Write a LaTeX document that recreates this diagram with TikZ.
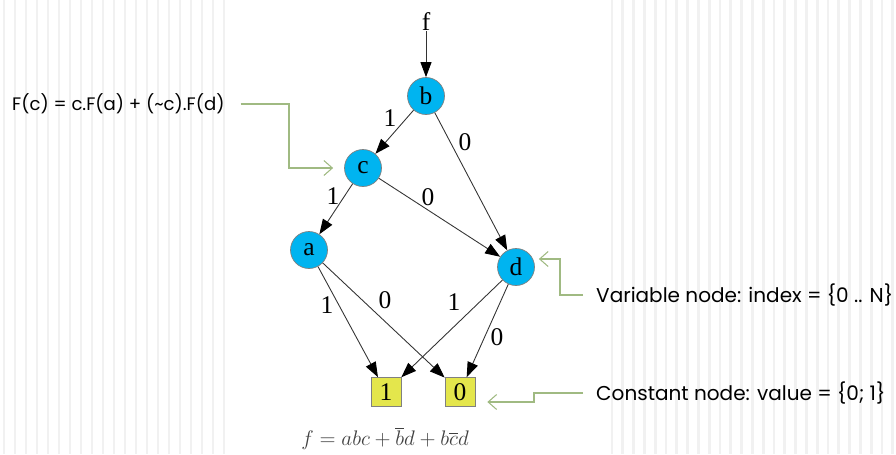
\documentclass[tikz,border=0pt]{standalone}
\usepackage{fontspec}
\setmainfont{Liberation Serif}
\newfontfamily\notefont{Poppins}
\usetikzlibrary{arrows.meta}
\definecolor{varblue}{RGB}{0,180,240}
\definecolor{constyellow}{RGB}{228,230,76}
\definecolor{notegreen}{RGB}{160,186,130}
\definecolor{stripegray}{RGB}{241,241,241}
\begin{document}
\begin{tikzpicture}[
        var/.style={circle, draw=gray, fill=varblue, minimum size=0.74cm, inner sep=0pt, font=\fontsize{14.5}{14}\selectfont},
        const/.style={rectangle, draw=gray, fill=constyellow, minimum width=0.6cm, minimum height=0.58cm, inner sep=0pt, font=\fontsize{14.5}{14}\selectfont},
        edge/.style={draw=black!80, line width=0.5pt, -{Triangle[length=0.3cm, width=0.22cm, color=black]}},
        lbl/.style={font=\fontsize{14.5}{14}\selectfont, inner sep=0pt},
        note/.style={draw=notegreen, line width=0.6pt, -{Straight Barb[length=0.17cm, width=0.3cm]}},
        notetext/.style={font=\notefont\fontsize{11.4}{13}\selectfont, anchor=west}
    ]

    \useasboundingbox (0,0) rectangle (17.92,9.08);

    % Slide background stripes
    \foreach \i in {0,...,20} \draw[stripegray, line width=1.5pt] (0.08+0.22*\i,0) -- ++(0,9.08);
    \foreach \i in {0,...,26} \draw[stripegray, line width=1.5pt] (12.24+0.216*\i,0) -- ++(0,9.08);

    % Function root
    \node[lbl] (f) at (8.52, 8.64) {f};

    % Variable nodes
    \node[var] (b) at (8.52, 7.16) {b};
    \node[var] (c) at (7.26, 5.72) {c};
    \node[var] (a) at (6.18, 4.08) {a};
    \node[var] (d) at (10.32, 3.74) {d};

    % Constant nodes
    \node[const] (one) at (7.72, 1.24) {1};
    \node[const] (zero) at (9.20, 1.24) {0};

    % Edges
    \draw[edge] (f) -- (b);
    \draw[edge] (b) -- (c);
    \draw[edge] (b) -- (d);
    \draw[edge] (c) -- (a);
    \draw[edge] (c) -- (d);
    \draw[edge] (a) -- (one);
    \draw[edge] (a) -- (zero);
    \draw[edge] (d) -- (one);
    \draw[edge] (d) -- (zero);

    % Edge labels
    \node[lbl] (lbc) at (7.80, 6.72) {1};
    \node[lbl] (lbd) at (9.30, 6.24) {0};
    \node[lbl] (lca) at (6.66, 5.16) {1};
    \node[lbl] (lcd) at (8.56, 5.14) {0};
    \node[lbl] (la1) at (6.54, 2.98) {1};
    \node[lbl] (la0) at (7.70, 3.08) {0};
    \node[lbl] (ld1) at (9.08, 3.04) {1};
    \node[lbl] (ld0) at (9.94, 2.34) {0};

    % Boolean function
    \node[text=black!75, font=\fontsize{12}{14}\selectfont] (func) at (7.70, 0.32) {$f = abc + \overline{b}d + b\overline{c}d$};

    % Annotations
    \node[notetext, font=\notefont\fontsize{10.3}{13}\selectfont] (fc) at (0.12, 7.00) {F(c) = c.F(a) + (\textasciitilde c).F(d)};
    \node[notetext] (varnote) at (11.80, 3.18) {Variable node: index = \{0 .. N\}};
    \node[notetext] (constnote) at (11.80, 1.22) {Constant node: value = \{0; 1\}};

    \draw[note, shorten <=0.2cm, shorten >=0.22cm] (fc.east) -- (fc.east -| 5.78,0) |- (c.west);
    \draw[note, shorten <=0.14cm, shorten >=0.08cm] (varnote.west) -- (varnote.west -| 11.20,0) |- ([yshift=0.16cm]d.east);
    \draw[note, shorten <=0.14cm, shorten >=0.24cm] (constnote.west) -- (constnote.west -| 10.68,0) |- ([yshift=-0.2cm]zero.east);

\end{tikzpicture}
\end{document}
